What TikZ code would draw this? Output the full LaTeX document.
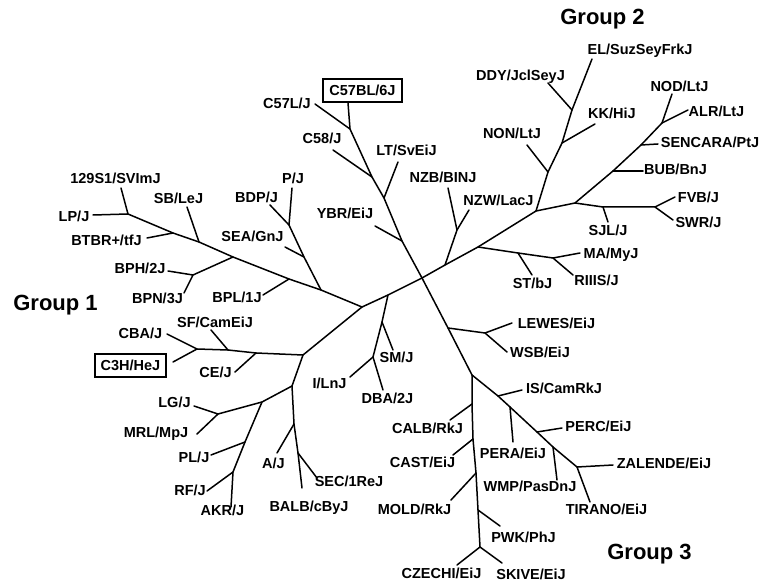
\documentclass[tikz,border=0pt]{standalone}
\usepackage{fontspec}
\setmainfont{Liberation Sans}
\begin{document}
\begin{tikzpicture}[x=1pt,y=-1pt,
  lab/.style={font=\bfseries\fontsize{14.5}{16}\selectfont, inner sep=0pt, text height=10.4pt, text depth=0pt},
  grp/.style={font=\bfseries\fontsize{22}{24}\selectfont, inner sep=0pt, text height=15.8pt, text depth=0pt},
  boxed/.style={lab, draw, line width=2pt, inner xsep=6pt, inner ysep=6pt},
  br/.style={line width=1.5pt, line join=round, line cap=round}]
\useasboundingbox (0,0) rectangle (763,585);
% ---- labels ----
\node[grp] (g1) at (55.5,303) {Group 1};
\node[grp] (g2) at (602.5,17) {Group 2};
\node[grp] (g3) at (649.5,552) {Group 3};
\node[lab] (t129) at (115.5,178) {129S1/SVImJ};
\node[lab] (tLP) at (74,216) {LP/J};
\node[lab] (tBTBR) at (106.5,240) {BTBR+/tfJ};
\node[lab] (tSB) at (178.5,198) {SB/LeJ};
\node[lab] (tBPH) at (140,268) {BPH/2J};
\node[lab] (tBPN) at (157.5,298) {BPN/3J};
\node[lab] (tBPL) at (237,297) {BPL/1J};
\node[lab] (tSEA) at (252.5,236) {SEA/GnJ};
\node[lab] (tBDP) at (256.5,197) {BDP/J};
\node[lab] (tP) at (293,178) {P/J};
\node[lab] (tC57L) at (287,103) {C57L/J};
\node[lab] (tC58) at (322,138) {C58/J};
\node[lab] (tYBR) at (345,213) {YBR/EiJ};
\node[boxed] (tC57BL) at (362.5,90.5) {C57BL/6J};
\node[lab] (tLT) at (406.5,150) {LT/SvEiJ};
\node[lab] (tCBA) at (140.5,333) {CBA/J};
\node[boxed] (tC3H) at (130.5,365.5) {C3H/HeJ};
\node[lab] (tSF) at (215,322) {SF/CamEiJ};
\node[lab] (tCE) at (215.5,372) {CE/J};
\node[lab] (tLG) at (174.5,402) {LG/J};
\node[lab] (tMRL) at (156,432) {MRL/MpJ};
\node[lab] (tPL) at (194,457) {PL/J};
\node[lab] (tRF) at (190,490) {RF/J};
\node[lab] (tAKR) at (222.5,510) {AKR/J};
\node[lab] (tA) at (273.5,463) {A/J};
\node[lab] (tSEC) at (349,481) {SEC/1ReJ};
\node[lab] (tBALB) at (309,506) {BALB/cByJ};
\node[lab] (tILn) at (329.5,383) {I/LnJ};
\node[lab] (tSM) at (396.5,357) {SM/J};
\node[lab] (tDBA) at (387.5,398) {DBA/2J};
\node[lab] (tLEW) at (556.5,323) {LEWES/EiJ};
\node[lab] (tWSB) at (540,352) {WSB/EiJ};
\node[lab] (tIS) at (564,388) {IS/CamRkJ};
\node[lab] (tCALB) at (427.5,428) {CALB/RkJ};
\node[lab] (tPERC) at (598.5,426) {PERC/EiJ};
\node[lab] (tPERA) at (513,453) {PERA/EiJ};
\node[lab] (tCAST) at (422.5,462) {CAST/EiJ};
\node[lab] (tZAL) at (664,463) {ZALENDE/EiJ};
\node[lab] (tWMP) at (530,486) {WMP/PasDnJ};
\node[lab] (tMOLD) at (414.5,509) {MOLD/RkJ};
\node[lab] (tTIR) at (606.5,509) {TIRANO/EiJ};
\node[lab] (tPWK) at (523.5,537) {PWK/PhJ};
\node[lab] (tCZ) at (441.5,573) {CZECHI/EiJ};
\node[lab] (tSK) at (531,574) {SKIVE/EiJ};
\node[lab] (tEL) at (640,49) {EL/SuzSeyFrkJ};
\node[lab] (tDDY) at (520.5,75) {DDY/JclSeyJ};
\node[lab] (tKK) at (612,113) {KK/HiJ};
\node[lab] (tNON) at (512,133) {NON/LtJ};
\node[lab] (tNZB) at (443,177) {NZB/BINJ};
\node[lab] (tNZW) at (498.5,200) {NZW/LacJ};
\node[lab] (tNOD) at (679.5,86) {NOD/LtJ};
\node[lab] (tALR) at (716.5,111) {ALR/LtJ};
\node[lab] (tSEN) at (710,142) {SENCARA/PtJ};
\node[lab] (tBUB) at (675.5,169) {BUB/BnJ};
\node[lab] (tFVB) at (698.5,197) {FVB/J};
\node[lab] (tSWR) at (698.5,222) {SWR/J};
\node[lab] (tSJL) at (608,230) {SJL/J};
\node[lab] (tMA) at (611,253) {MA/MyJ};
\node[lab] (tST) at (532.5,283) {ST/bJ};
\node[lab] (tRIII) at (596.5,280) {RIIIS/J};
% ---- tree points ----
\coordinate (C) at (422,278);
% top
\coordinate (lC57BL) at (348,103);
\coordinate (nC57) at (350,129);
\coordinate (lC57L) at (315,104);
\coordinate (nC58) at (372,177);
\coordinate (lC58) at (333,150);
\coordinate (nLT) at (384,198);
\coordinate (lLT) at (398,162);
\coordinate (nYBR) at (402,241);
\coordinate (lYBR) at (375,226);
% left
\coordinate (G1) at (362,307);
\coordinate (n129) at (128,214);
\coordinate (l129) at (121,188);
\coordinate (lLP) at (93,215);
\coordinate (nBTBR) at (173,233);
\coordinate (lBTBR) at (147,238);
\coordinate (nSB) at (199,242);
\coordinate (lSB) at (187,207);
\coordinate (nBPH) at (233,257);
\coordinate (nBPHj) at (193,275);
\coordinate (lBPH) at (168,271);
\coordinate (lBPN) at (184,293);
\coordinate (nBPL) at (289,279);
\coordinate (lBPL) at (263,295);
\coordinate (nSEA0) at (321,290);
\coordinate (nSEA) at (304,257);
\coordinate (lSEA) at (285,247);
\coordinate (nBDP) at (289,225);
\coordinate (lBDP) at (270,205);
\coordinate (lP) at (292,188);
% lower left
\coordinate (nSM0) at (388,295);
\coordinate (nSM) at (382,322);
\coordinate (lSM) at (393,350);
\coordinate (nILn) at (373,357);
\coordinate (lILn) at (350,377);
\coordinate (lDBA) at (383,390);
\coordinate (G1b) at (303,355);
\coordinate (nCE) at (256,353);
\coordinate (nSF) at (228,350);
\coordinate (nCBA) at (197,349);
\coordinate (lSF) at (211,330);
\coordinate (lCE) at (235,372);
\coordinate (lCBA) at (167,334);
\coordinate (lC3H) at (173,362);
\coordinate (nLow) at (292,386);
\coordinate (nLG0) at (262,402);
\coordinate (nLG) at (218,414);
\coordinate (lLG) at (194,406);
\coordinate (lMRL) at (197,434);
\coordinate (nPL) at (245,442);
\coordinate (lPL) at (211,455);
\coordinate (nRF) at (233,472);
\coordinate (lRF) at (207,491);
\coordinate (lAKR) at (231,507);
\coordinate (nA) at (294,424);
\coordinate (lA) at (277,453);
\coordinate (nSEC) at (298,453);
\coordinate (lSEC) at (317,478);
\coordinate (lBALB) at (302,488);
% upper right
\coordinate (nNZ) at (445,265);
\coordinate (nNZj) at (457,230);
\coordinate (lNZB) at (448,188);
\coordinate (lNZW) at (469,210);
\coordinate (nMA0) at (478,247);
\coordinate (nST) at (518,253);
\coordinate (lST) at (532,275);
\coordinate (nMA) at (553,258);
\coordinate (lMA) at (580,253);
\coordinate (lRIII) at (573,275);
\coordinate (G2) at (536,211);
\coordinate (nNON) at (548,172);
\coordinate (lNON) at (527,145);
\coordinate (nKK) at (562,143);
\coordinate (lKK) at (595,124);
\coordinate (nDDY) at (572,110);
\coordinate (lDDY) at (548,83);
\coordinate (lEL) at (592,59);
\coordinate (nFS) at (575,203);
\coordinate (nSJL) at (603,207);
\coordinate (lSJL) at (608,222);
\coordinate (nFVB) at (655,207);
\coordinate (lFVB) at (675,197);
\coordinate (lSWR) at (673,220);
\coordinate (nBUB) at (613,171);
\coordinate (lBUB) at (643,171);
\coordinate (nSEN) at (641,145);
\coordinate (lSEN) at (658,144);
\coordinate (nNOD) at (662,123);
\coordinate (lNOD) at (672,94);
\coordinate (lALR) at (688,110);
% lower right
\coordinate (nLEW) at (448,328);
\coordinate (nLEWj) at (485,333);
\coordinate (lLEW) at (512,323);
\coordinate (lWSB) at (507,352);
\coordinate (nG3) at (472,375);
\coordinate (nCALB) at (472,404);
\coordinate (lCALB) at (450,420);
\coordinate (nCAST) at (473,439);
\coordinate (lCAST) at (453,455);
\coordinate (nMOLD) at (476,473);
\coordinate (lMOLD) at (451,500);
\coordinate (nPWK) at (478,510);
\coordinate (lPWK) at (500,526);
\coordinate (nCZ) at (480,547);
\coordinate (lCZ) at (457,565);
\coordinate (lSK) at (502,563);
\coordinate (nIS) at (498,396);
\coordinate (lIS) at (522,390);
\coordinate (nPERA) at (510,407);
\coordinate (lPERA) at (513,442);
\coordinate (nPERC) at (537,432);
\coordinate (lPERC) at (562,428);
\coordinate (nWMP) at (553,447);
\coordinate (lWMP) at (557,480);
\coordinate (nZT) at (577,467);
\coordinate (lZAL) at (613,465);
\coordinate (lTIR) at (590,502);
% ---- branches ----
\draw[br] (lC57BL) -- (nC57) -- (nC58) -- (nLT) -- (nYBR) -- (C) -- (nLEW) -- (nG3) -- (nIS) -- (nPERA) -- (nPERC) -- (nWMP) -- (nZT);
\draw[br] (lC57L) -- (nC57);
\draw[br] (lC58) -- (nC58);
\draw[br] (lLT) -- (nLT);
\draw[br] (lYBR) -- (nYBR);
% left cluster
\draw[br] (G1) -- (nSM0) -- (C) -- (nNZ) -- (nMA0) -- (G2);
\draw[br] (n129) -- (nBTBR) -- (nSB) -- (nBPH) -- (nBPL) -- (nSEA0) -- (G1);
\draw[br] (l129) -- (n129) -- (lLP);
\draw[br] (lBTBR) -- (nBTBR);
\draw[br] (lSB) -- (nSB);
\draw[br] (nBPH) -- (nBPHj);
\draw[br] (lBPH) -- (nBPHj) -- (lBPN);
\draw[br] (lBPL) -- (nBPL);
\draw[br] (nSEA0) -- (nSEA) -- (nBDP) -- (lP);
\draw[br] (lSEA) -- (nSEA);
\draw[br] (lBDP) -- (nBDP);
% SM cluster
\draw[br] (nSM0) -- (nSM) -- (nILn) -- (lDBA);
\draw[br] (nSM) -- (lSM);
\draw[br] (nILn) -- (lILn);
% group 1 lower
\draw[br] (G1) -- (G1b) -- (nCE) -- (nSF) -- (nCBA);
\draw[br] (lCBA) -- (nCBA) -- (lC3H);
\draw[br] (lSF) -- (nSF);
\draw[br] (lCE) -- (nCE);
\draw[br] (G1b) -- (nLow) -- (nLG0) -- (nLG);
\draw[br] (lLG) -- (nLG) -- (lMRL);
\draw[br] (nLG0) -- (nPL) -- (nRF) -- (lAKR);
\draw[br] (lPL) -- (nPL);
\draw[br] (lRF) -- (nRF);
\draw[br] (nLow) -- (nA) -- (nSEC) -- (lBALB);
\draw[br] (lA) -- (nA);
\draw[br] (lSEC) -- (nSEC);
% group 2
\draw[br] (nNZ) -- (nNZj) -- (lNZB);
\draw[br] (nNZj) -- (lNZW);
\draw[br] (nMA0) -- (nST) -- (nMA) -- (lMA);
\draw[br] (nST) -- (lST);
\draw[br] (nMA) -- (lRIII);
\draw[br] (G2) -- (nNON) -- (nKK) -- (nDDY) -- (lEL);
\draw[br] (lNON) -- (nNON);
\draw[br] (lKK) -- (nKK);
\draw[br] (lDDY) -- (nDDY);
\draw[br] (G2) -- (nFS) -- (nSJL) -- (nFVB);
\draw[br] (nSJL) -- (lSJL);
\draw[br] (lFVB) -- (nFVB) -- (lSWR);
\draw[br] (nFS) -- (nBUB) -- (nSEN) -- (nNOD) -- (lNOD);
\draw[br] (nBUB) -- (lBUB);
\draw[br] (nSEN) -- (lSEN);
\draw[br] (nNOD) -- (lALR);
% group 3
\draw[br] (nLEW) -- (nLEWj) -- (lLEW);
\draw[br] (nLEWj) -- (lWSB);
\draw[br] (nG3) -- (nCALB) -- (nCAST) -- (nMOLD) -- (nPWK) -- (nCZ);
\draw[br] (nCALB) -- (lCALB);
\draw[br] (nCAST) -- (lCAST);
\draw[br] (nMOLD) -- (lMOLD);
\draw[br] (nPWK) -- (lPWK);
\draw[br] (lCZ) -- (nCZ) -- (lSK);
\draw[br] (nIS) -- (lIS);
\draw[br] (nPERA) -- (lPERA);
\draw[br] (nPERC) -- (lPERC);
\draw[br] (nWMP) -- (lWMP);
\draw[br] (lZAL) -- (nZT) -- (lTIR);
\end{tikzpicture}
\end{document}
